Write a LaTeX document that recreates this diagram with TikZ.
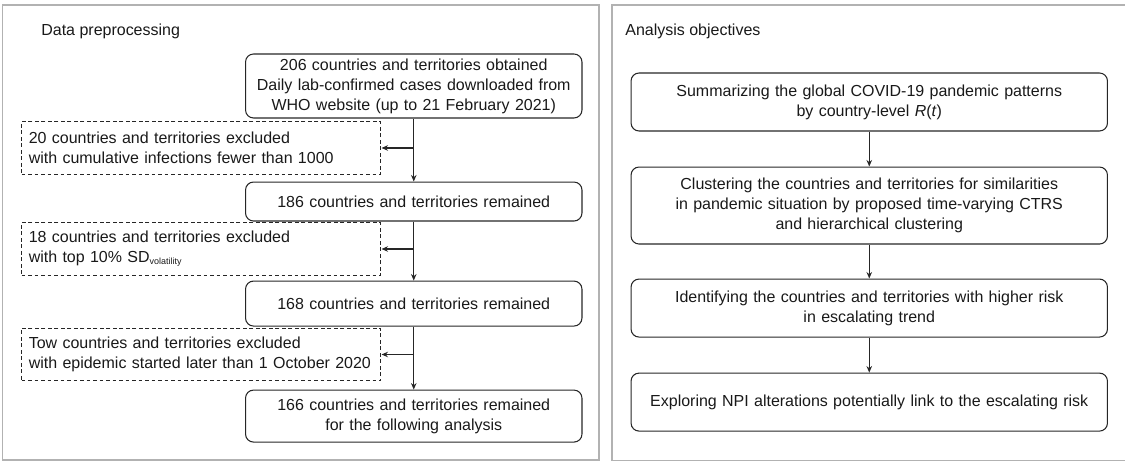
\documentclass[tikz,border=0pt]{standalone}
\usepackage{fontspec}
\setmainfont{Liberation Sans}
\usetikzlibrary{positioning,arrows.meta}

\begin{document}
\begin{tikzpicture}[
    x=0.02cm, y=-0.02cm,
    every node/.style={font=\fontsize{9.1}{11.4}\selectfont, text=black!90},
    panel/.style={draw=gray!60, line width=0.9pt},
    title/.style={anchor=west, inner sep=0pt},
    kept/.style={draw=black!85, line width=0.6pt, rounded corners=0.16cm, text width=6.33cm, inner xsep=0.2cm, inner ysep=0.05cm, align=center},
    excl/.style={draw=black!85, line width=0.6pt, dash pattern=on 2.2pt off 1.5pt, text width=6.9cm, inner xsep=0.145cm, minimum height=1.05cm, align=left, anchor=west},
    goal/.style={draw=black!85, line width=0.6pt, rounded corners=0.16cm, text width=9.13cm, inner xsep=0.2cm, minimum height=1.16cm, align=center},
    arr/.style={-{Stealth[length=1.3mm, width=1.1mm]}, line width=0.6pt, black!85},
  ]
    \useasboundingbox (0,0) rectangle (1125,462);

    % frames of the two panels
    \draw[panel] (2.5,5) rectangle (599,460);
    \draw[panel] (1130,5) -- (612,5) -- (612,460.5) -- (1130,460.5);

    \node[title] (pretitle) at (41,31) {Data preprocessing};
    \node[title] (objtitle) at (625,31) {Analysis objectives};

    % data preprocessing
    \node[kept, minimum height=1.28cm] (obtained) at (413.75,86) {206 countries and territories obtained\\Daily lab-confirmed cases downloaded from\\WHO website (up to 21 February 2021)};
    \node[kept, minimum height=0.78cm, below=1.26cm of obtained] (remain1) {186 countries and territories remained};
    \node[kept, minimum height=0.9cm, below=1.18cm of remain1] (remain2) {168 countries and territories remained};
    \node[kept, minimum height=1.04cm, below=1.26cm of remain2] (remain3) {166 countries and territories remained\\for the following analysis};

    \node[excl] (excl1) at (21,148) {20 countries and territories excluded\\with cumulative infections fewer than 1000};
    \node[excl] (excl2) at (21,249) {18 countries and territories excluded\\with top 10\% SD\textsubscript{\fontsize{5.1}{6}\selectfont volatility}};
    \node[excl] (excl3) at (21,354.5) {Tow countries and territories excluded\\with epidemic started later than 1 October 2020};

    \draw[arr] (obtained) -- (remain1);
    \draw[arr] (remain1) -- (remain2);
    \draw[arr] (remain2) -- (remain3);
    \draw[arr] (obtained.south |- excl1.east) -- (excl1.east);
    \draw[arr] (obtained.south |- excl2.east) -- (excl2.east);
    \draw[arr] (obtained.south |- excl3.east) -- (excl3.east);

    % analysis objectives
    \node[goal] (summ) at (869.25,102) {Summarizing the global COVID-19 pandemic patterns\\by country-level \textit{R}(\textit{t})};
    \node[goal, minimum height=1.54cm, below=0.7cm of summ] (clust) {Clustering the countries and territories for similarities\\in pandemic situation by proposed time-varying CTRS\\and hierarchical clustering};
    \node[goal, below=0.68cm of clust] (ident) {Identifying the countries and territories with higher risk\\in escalating trend};
    \node[goal, below=0.7cm of ident] (explore) {Exploring NPI alterations potentially link to the escalating risk};

    \draw[arr] (summ) -- (clust);
    \draw[arr] (clust) -- (ident);
    \draw[arr] (ident) -- (explore);
\end{tikzpicture}
\end{document}
